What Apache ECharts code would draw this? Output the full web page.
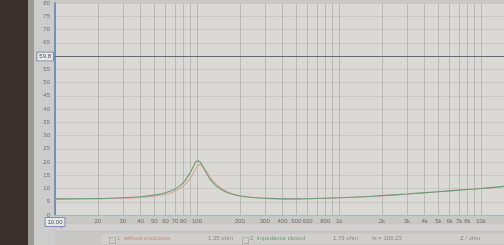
<!DOCTYPE html>
<html><head><meta charset="utf-8">
<script src="https://cdn.jsdelivr.net/npm/echarts@6/dist/echarts.min.js"></script>
<style>html,body{margin:0;padding:0;background:#c9c8c5}#c{width:504px;height:245px}</style>
</head><body><div id="c"></div>
<script>
const freqs = [10,20,30,40,50,60,70,80,90,95,100,105,110,120,130,150,170,200,250,300,400,500,700,1000,1500,2000,3000,5000,7000,10000,14500];
const greenZ = [6.1,6.2,6.5,6.9,7.5,8.4,9.8,12.2,16.2,18.7,20.5,20.0,18.2,14.6,12.0,9.4,8.1,7.2,6.6,6.3,6.1,6.1,6.2,6.5,6.9,7.3,7.9,8.8,9.4,10.0,10.8];
const redZ   = [6.0,6.1,6.3,6.6,7.1,7.8,9.0,10.9,14.0,16.2,18.2,19.0,18.3,15.5,12.8,9.9,8.4,7.3,6.6,6.3,6.1,6.1,6.2,6.5,6.9,7.3,7.9,8.8,9.4,10.0,10.8];
const xTickValues = [10,20,30,40,50,60,70,80,90,100,200,300,400,500,600,700,800,900,1000,2000,3000,4000,5000,6000,7000,8000,9000,10000];
const xLabelValues = [10,20,30,40,50,60,70,80,100,200,300,400,500,600,800,1000,2000,3000,4000,5000,6000,7000,8000,10000];
const markerValue = 59.8;
const seriesNames = ['1: without enclosure','2: impedance closed'];

const chart = echarts.init(document.getElementById('c'));
const toPairs = arr => freqs.map((f,i)=>[f,arr[i]]);
chart.setOption({
  animation:false,
  backgroundColor:'#c9c8c5',
  graphic:[
    {type:'rect',left:0,top:0,shape:{width:28,height:245},style:{fill:'#3b302b'},z:-1},
    {type:'rect',left:28,top:0,shape:{width:6,height:245},style:{fill:'#9d9a95'},z:-1},
    {type:'rect',left:34,top:0,shape:{width:21,height:245},style:{fill:'#cccccb'},z:-1},
    {type:'rect',left:55,top:3,shape:{width:449,height:212},style:{fill:'#dbd9d6'},z:-1},
    {type:'rect',left:55,top:223,shape:{width:449,height:8},style:{fill:'#d2d1cf',stroke:'#b8b8b8',lineWidth:0.5},z:-1},
    {type:'text',left:60,top:224,style:{text:'<',fill:'#666',font:'6px sans-serif'}},
    {type:'rect',left:100,top:233,shape:{width:404,height:11},style:{fill:'#d0cfcc',stroke:'#bdbdbd',lineWidth:0.5},z:-1},
    {type:'rect',left:107,top:235,shape:{width:6,height:6},style:{fill:'none',stroke:'#999',lineWidth:0.6}},
    {type:'text',left:117,top:235,style:{text:seriesNames[0],fill:'#c98a80',font:'6px sans-serif'}},
    {type:'text',left:208,top:235,style:{text:'1.35 ohm',fill:'#888',font:'6px sans-serif'}},
    {type:'rect',left:240,top:235,shape:{width:6,height:6},style:{fill:'none',stroke:'#999',lineWidth:0.6}},
    {type:'text',left:250,top:235,style:{text:seriesNames[1],fill:'#6fa07c',font:'6px sans-serif'}},
    {type:'text',left:333,top:235,style:{text:'1.73 ohm',fill:'#888',font:'6px sans-serif'}},
    {type:'text',left:372,top:235,style:{text:'fs = 100.23',fill:'#888',font:'6px sans-serif'}},
    {type:'text',left:460,top:235,style:{text:'Z / ohm',fill:'#888',font:'6px sans-serif'}}
  ],
  grid:{left:55,right:0,top:3,bottom:30,containLabel:false},
  xAxis:{
    type:'log',logBase:10,min:10,max:14500,
    axisLine:{show:true,onZero:false,lineStyle:{color:'#a9b4c4',width:1}},
    axisTick:{show:false,customValues:xTickValues},
    axisLabel:{customValues:xLabelValues,fontSize:6,color:'#6f6f6f',margin:3,
      formatter:v=>v===10?'{box|10.00}':(v>=1000?(v/1000)+'k':String(v)),
      rich:{box:{fontSize:6,color:'#555',borderColor:'#6a7fa8',borderWidth:0.8,padding:[1,2],backgroundColor:'#e6e6e6'}}},
    splitLine:{show:true,lineStyle:{color:'#b3b3b1',width:0.8}}
  },
  yAxis:{
    type:'value',min:0,max:80,interval:5,
    axisLine:{show:true,lineStyle:{color:'#5c7fb5',width:1.5}},
    axisTick:{show:false},
    axisLabel:{fontSize:6,color:'#6f6f6f',margin:5,formatter:v=>v===60?'':String(v)},
    splitLine:{show:true,lineStyle:{color:'#c3c2bf',width:0.7}}
  },
  series:[
    {name:seriesNames[0],type:'line',data:toPairs(redZ),smooth:0.4,symbol:'none',
     lineStyle:{color:'#d8a696',width:1.1},z:2},
    {name:seriesNames[1],type:'line',data:toPairs(greenZ),smooth:0.4,symbol:'none',
     lineStyle:{color:'#6c9c7a',width:1.1},z:3,
     markLine:{silent:true,symbol:'none',
       lineStyle:{color:'#5f6b70',width:1,type:'solid'},
       label:{show:true,position:'start',formatter:String(markerValue),fontSize:6,color:'#555',
         borderColor:'#6a7fa8',borderWidth:0.8,padding:[1,2],backgroundColor:'#e6e6e6',distance:2},
       data:[{yAxis:markerValue}]}}
  ]
});
</script></body></html>
